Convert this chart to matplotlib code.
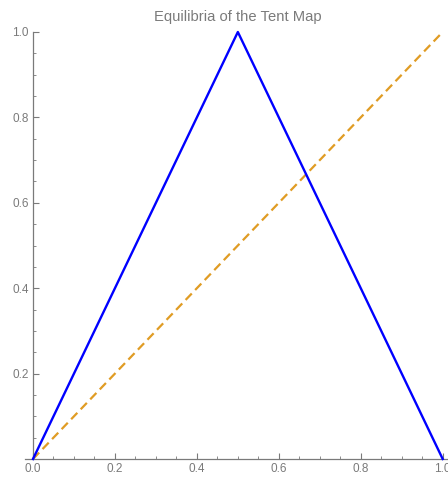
import matplotlib
matplotlib.use("Agg")
import matplotlib.pyplot as plt
from matplotlib.ticker import MultipleLocator, FixedLocator

# Data
tent_x = [0.0, 0.5, 1.0]
tent_y = [0.0, 1.0, 0.0]
diag_x = [0.0, 1.0]
diag_y = [0.0, 1.0]
x_ticks = [0.0, 0.2, 0.4, 0.6, 0.8, 1.0]
x_labels = ["0.0", "0.2", "0.4", "0.6", "0.8", "1.0"]
y_ticks = [0.2, 0.4, 0.6, 0.8, 1.0]
y_labels = ["0.2", "0.4", "0.6", "0.8", "1.0"]

plt.rcParams['font.family'] = ['Liberation Sans', 'DejaVu Sans']
gray = '#7a7a7a'

fig = plt.figure(figsize=(4.48, 4.79), dpi=100)
W, H = 448, 479
x0px, x1px = 33, 442.7
y0px, y1px = 459, 32
scale = x1px - x0px
xmin = -(x0px - 25) / scale
xmax = 1.0 + (452 - x1px) / scale
left = 25 / W
right = 452 / W
ax = fig.add_axes([left, (H - y0px) / H, right - left, (y0px - y1px) / H])
ax.set_xlim(xmin, xmax)
ax.set_ylim(0, 1)

ax.plot(diag_x, diag_y, color='#e09c24', lw=1.6, ls=(0, (4, 2.2)), clip_on=False, zorder=2)
ax.plot(tent_x, tent_y, color='#0000ff', lw=1.7, clip_on=False, zorder=3)

for s in ['top', 'right']:
    ax.spines[s].set_visible(False)
ax.spines['left'].set_position(('data', 0))
for s in ['left', 'bottom']:
    ax.spines[s].set_color(gray)
    ax.spines[s].set_linewidth(0.9)

ax.xaxis.set_major_locator(FixedLocator(x_ticks))
ax.set_xticklabels(x_labels)
ax.yaxis.set_major_locator(FixedLocator(y_ticks))
ax.set_yticklabels(y_labels)
ax.xaxis.set_minor_locator(MultipleLocator(0.05))
ax.yaxis.set_minor_locator(MultipleLocator(0.05))
ax.tick_params(which='major', direction='in', length=4, width=0.8, color=gray,
               labelcolor=gray, labelsize=8.5, pad=3)
ax.tick_params(which='minor', direction='in', length=2, width=0.6, color=gray)

fig.text((x0px + x1px) / 2 / W, 1 - 17 / H, "Equilibria of the Tent Map",
         ha='center', va='center', color=gray, fontsize=10.6)

fig.savefig("out.png", dpi=100)
